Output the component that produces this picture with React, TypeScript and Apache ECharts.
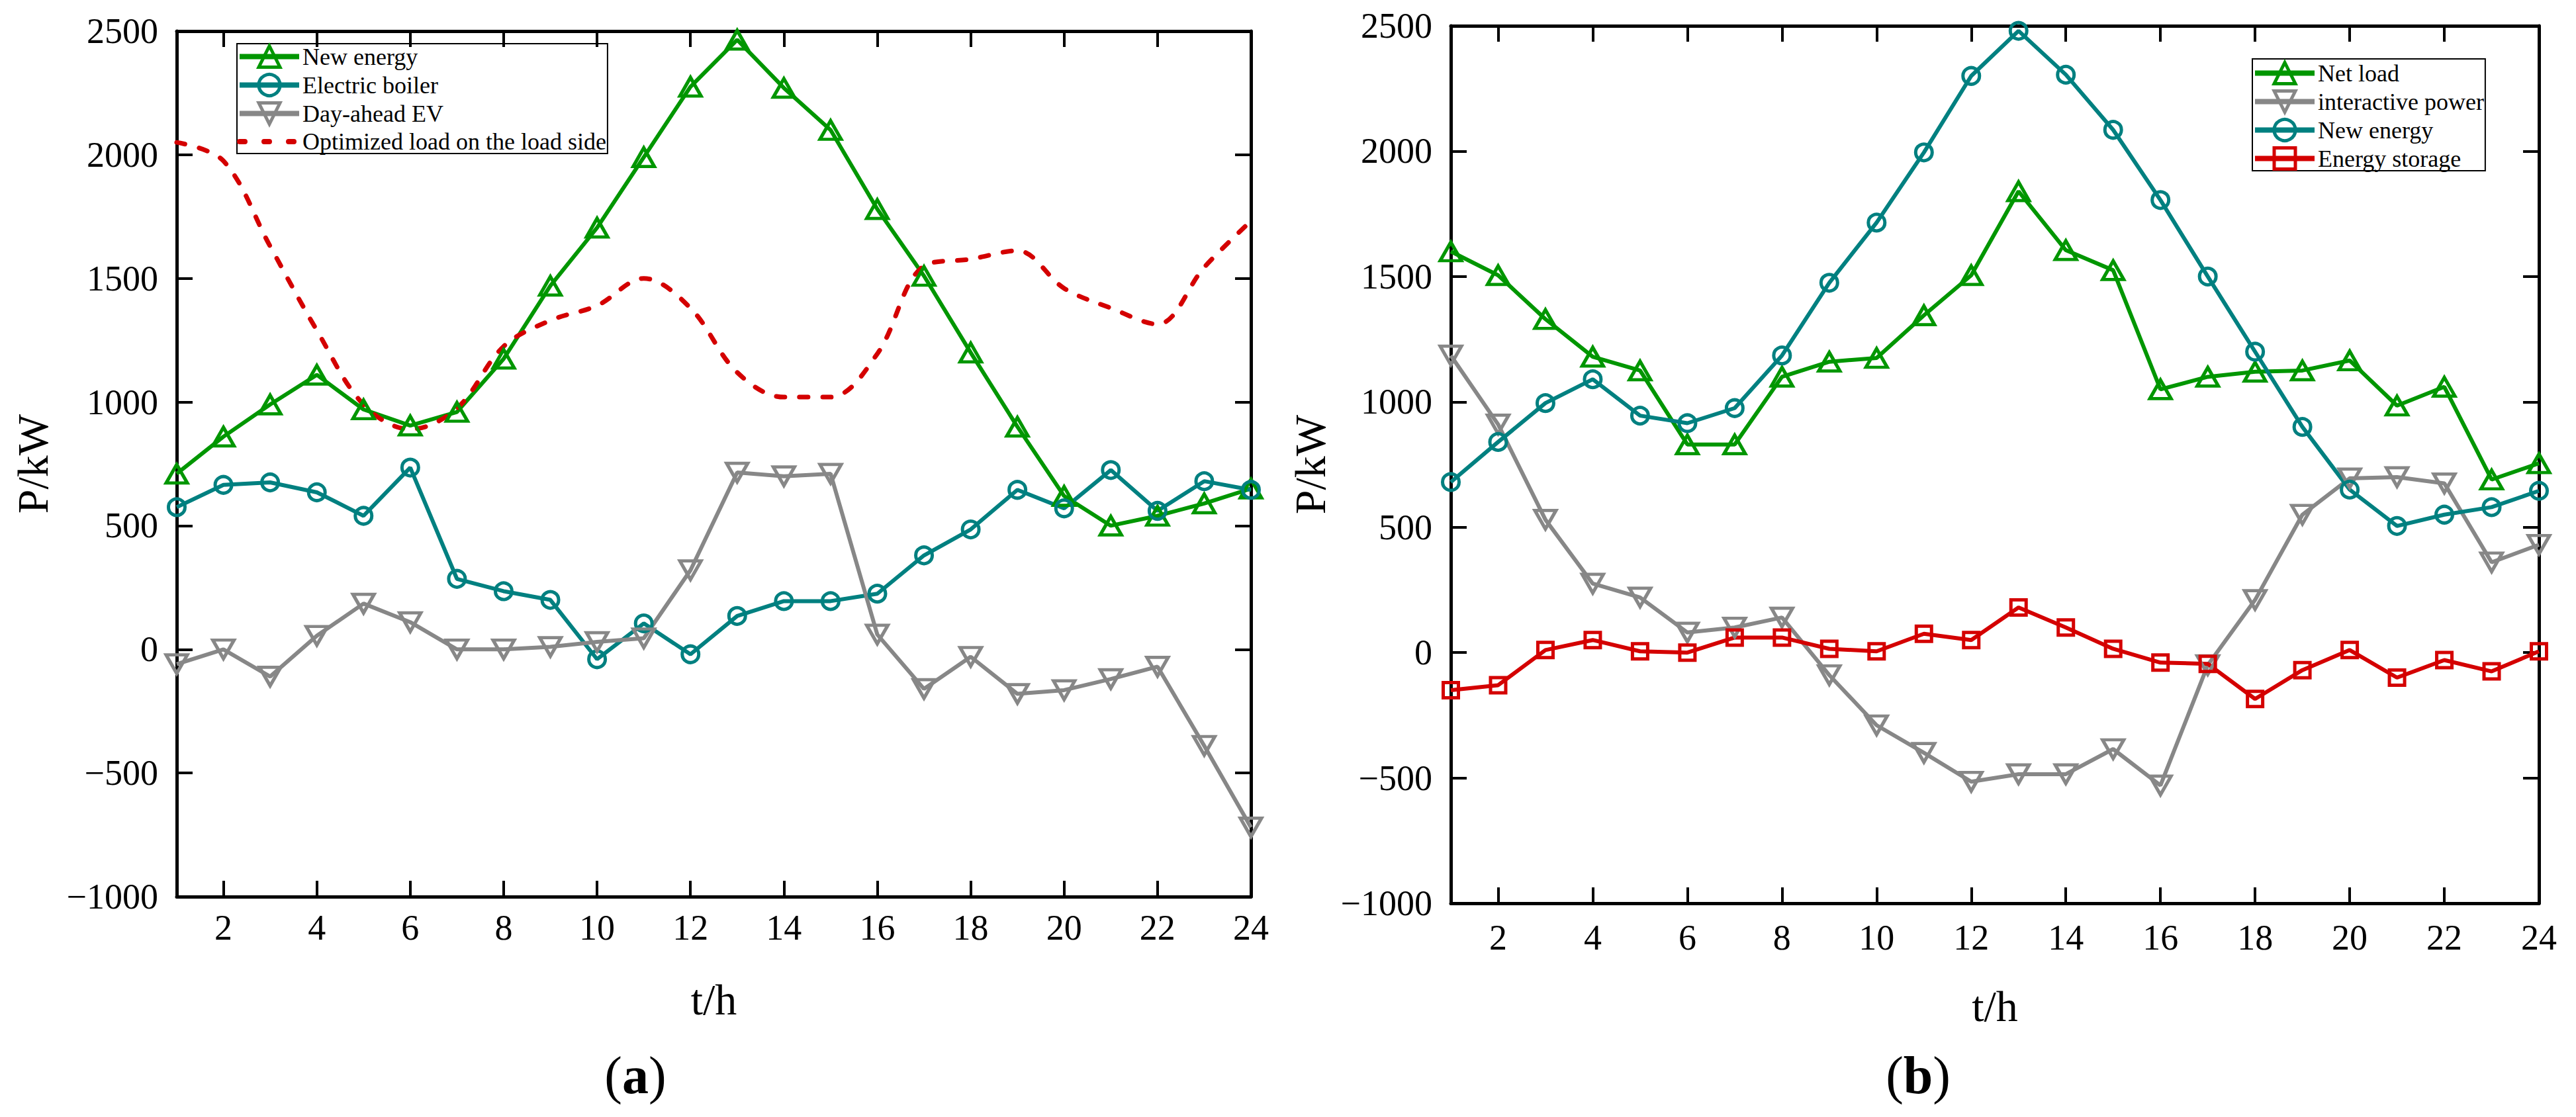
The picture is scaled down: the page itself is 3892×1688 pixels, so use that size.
import React, { useEffect, useRef } from 'react';
import * as echarts from 'echarts';

const hours = [1, 2, 3, 4, 5, 6, 7, 8, 9, 10, 11, 12, 13, 14, 15, 16, 17, 18, 19, 20, 21, 22, 23, 24];
const xTicks = [2, 4, 6, 8, 10, 12, 14, 16, 18, 20, 22, 24];

// Panel (a)
const newEnergyA = [710, 860, 990, 1110, 970, 905, 960, 1175, 1470, 1705, 1990, 2275, 2465, 2270, 2100, 1780, 1510, 1200, 900, 620, 500, 540, 590, 650];
const boilerA = [575, 665, 675, 635, 540, 735, 285, 235, 200, -40, 105, -20, 135, 195, 195, 225, 380, 485, 645, 570, 725, 560, 680, 645];
const evA = [-60, 0, -110, 55, 185, 110, 0, 0, 10, 30, 45, 320, 715, 700, 710, 60, -160, -30, -180, -165, -120, -70, -390, -720];
const optimizedLoadA = [2050, 1975, 1630, 1290, 990, 890, 975, 1225, 1330, 1390, 1500, 1380, 1120, 1020, 1020, 1195, 1550, 1578, 1612, 1460, 1380, 1315, 1545, 1732];

// Panel (b)
const netLoadB = [1600, 1505, 1330, 1180, 1125, 830, 830, 1100, 1160, 1175, 1345, 1505, 1840, 1605, 1525, 1050, 1100, 1120, 1125, 1165, 985, 1060, 690, 755];
const interactiveB = [1185, 910, 530, 275, 220, 80, 100, 140, -90, -290, -400, -515, -485, -485, -385, -530, -50, 210, 550, 695, 700, 675, 360, 430];
const newEnergyB = [680, 840, 995, 1090, 945, 915, 975, 1185, 1475, 1715, 1995, 2300, 2480, 2305, 2085, 1805, 1500, 1200, 900, 650, 505, 550, 580, 645];
const storageB = [-150, -130, 10, 50, 5, 0, 60, 60, 15, 5, 75, 50, 180, 100, 15, -40, -45, -185, -70, 10, -100, -30, -75, 5];

const FONT = '"Liberation Serif", "Times New Roman", serif';
const GREEN = '#009600';
const TEAL = '#008080';
const GREY = '#878787';
const RED = '#d40000';

const pts = (arr: number[]) => hours.map((h, i) => [h, arr[i]]);
const fmtMinus = (v: number) => String(v).replace('-', '\u2212');

function xAxes(grid: number, labelMargin: number) {
  const base = {
    type: 'value',
    gridIndex: grid,
    min: 1,
    max: 24,
    splitLine: { show: false },
    axisLine: { show: true, onZero: false, lineStyle: { color: '#000', width: 5 } },
    axisTick: { show: true, inside: true, length: 24, customValues: xTicks, lineStyle: { color: '#000', width: 4 } },
  };
  return [
    {
      ...base,
      position: 'bottom',
      axisLabel: { customValues: xTicks, fontSize: 54, fontFamily: FONT, color: '#000', margin: labelMargin },
      name: 't/h',
      nameLocation: 'middle',
      nameGap: 122,
      nameTextStyle: { fontSize: 66, fontFamily: FONT, color: '#000' },
    },
    { ...base, position: 'top', axisLabel: { show: false } },
  ];
}

function yAxes(grid: number, nameGap: number) {
  const base = {
    type: 'value',
    gridIndex: grid,
    min: -1000,
    max: 2500,
    interval: 500,
    splitLine: { show: false },
    axisLine: { show: true, onZero: false, lineStyle: { color: '#000', width: 5 } },
    axisTick: { show: true, inside: true, length: 24, lineStyle: { color: '#000', width: 4 } },
  };
  return [
    {
      ...base,
      position: 'left',
      axisLabel: { formatter: fmtMinus, fontSize: 54, fontFamily: FONT, color: '#000', margin: 28 },
      name: 'P/kW',
      nameLocation: 'middle',
      nameGap,
      nameTextStyle: { fontSize: 66, fontFamily: FONT, color: '#000' },
    },
    { ...base, position: 'right', axisLabel: { show: false } },
  ];
}

function lineSeries(
  name: string,
  data: number[],
  color: string,
  axis: number,
  symbol: string,
  symbolSize: number | number[],
  extra: any = {}
) {
  return {
    type: 'line',
    name,
    xAxisIndex: axis,
    yAxisIndex: axis,
    data: pts(data),
    symbol,
    symbolSize,
    showSymbol: true,
    clip: false,
    lineStyle: { color, width: 6 },
    itemStyle: { color: 'rgba(255,255,255,0)', borderColor: color, borderWidth: 5 },
    emphasis: { disabled: true },
    ...extra,
  };
}

const App: React.FC = () => {
  const ref = useRef<HTMLDivElement>(null);

  useEffect(() => {
    if (!ref.current) return;
    const chart = echarts.init(ref.current, undefined, { renderer: 'svg' });

    const legendCommon = {
      show: true,
      orient: 'vertical',
      itemWidth: 90,
      itemHeight: 40,
      itemGap: 6,
      borderColor: '#000',
      borderWidth: 2,
      selectedMode: false,
      textStyle: { fontSize: 36, fontFamily: FONT, color: '#000' },
      lineStyle: { width: 8 },
      itemStyle: { borderWidth: 5 },
    };

    const option: any = {
      animation: false,
      backgroundColor: '#fff',
      grid: [
        { left: 267, top: 47, width: 1623, height: 1308 },
        { left: 2192, top: 39, width: 1644, height: 1326 },
      ],
      xAxis: [...xAxes(0, 20), ...xAxes(1, 25)],
      yAxis: [...yAxes(0, 185), ...yAxes(1, 180)],
      legend: [
        {
          ...legendCommon,
          left: 358,
          top: 66,
          padding: [1, 2, 0, 0],
          data: [
            'New energy',
            'Electric boiler',
            'Day-ahead EV',
            { name: 'Optimized load on the load side', itemStyle: { opacity: 0 }, lineStyle: { type: [8, 29], cap: 'round' } },
          ],
        },
        {
          ...legendCommon,
          left: 3403,
          top: 89,
          padding: [3, 2, 0, 0],
          formatter: (n: string) => n.replace(' (b)', ''),
          data: ['Net load', 'interactive power', 'New energy (b)', 'Energy storage'],
        },
      ],
      series: [
        lineSeries('New energy', newEnergyA, GREEN, 0, 'triangle', [32, 28]),
        lineSeries('Electric boiler', boilerA, TEAL, 0, 'circle', 25),
        lineSeries('Day-ahead EV', evA, GREY, 0, 'triangle', [32, 28], { symbolRotate: 180 }),
        {
          type: 'line',
          name: 'Optimized load on the load side',
          xAxisIndex: 0,
          yAxisIndex: 0,
          data: pts(optimizedLoadA),
          smooth: 0.35,
          symbol: 'none',
          clip: false,
          lineStyle: { color: RED, width: 7, type: [13, 22], cap: 'round' },
          itemStyle: { color: RED },
          emphasis: { disabled: true },
        },
        lineSeries('Net load', netLoadB, GREEN, 2, 'triangle', [32, 28]),
        lineSeries('interactive power', interactiveB, GREY, 2, 'triangle', [32, 28], { symbolRotate: 180 }),
        lineSeries('New energy (b)', newEnergyB, TEAL, 2, 'circle', 25),
        lineSeries('Energy storage', storageB, RED, 2, 'rect', 23),
      ],
      graphic: [
        {
          type: 'text',
          x: 960,
          y: 1625,
          style: {
            text: '{p|(}{b|a}{p|)}',
            align: 'center',
            verticalAlign: 'middle',
            fill: '#000',
            font: `80px ${FONT}`,
            rich: {
              p: { fontSize: 80, fontFamily: FONT, fill: '#000' },
              b: { fontSize: 80, fontFamily: FONT, fontWeight: 'bold', fill: '#000' },
            },
          },
        },
        {
          type: 'text',
          x: 2898,
          y: 1625,
          style: {
            text: '{p|(}{b|b}{p|)}',
            align: 'center',
            verticalAlign: 'middle',
            fill: '#000',
            font: `80px ${FONT}`,
            rich: {
              p: { fontSize: 80, fontFamily: FONT, fill: '#000' },
              b: { fontSize: 80, fontFamily: FONT, fontWeight: 'bold', fill: '#000' },
            },
          },
        },
      ],
    };

    chart.setOption(option);
    return () => {
      chart.dispose();
    };
  }, []);

  return (
    <div
      ref={ref}
      style={{ position: 'absolute', left: 0, top: 0, width: 3892, height: 1688, background: '#fff' }}
    />
  );
};

export default App;
